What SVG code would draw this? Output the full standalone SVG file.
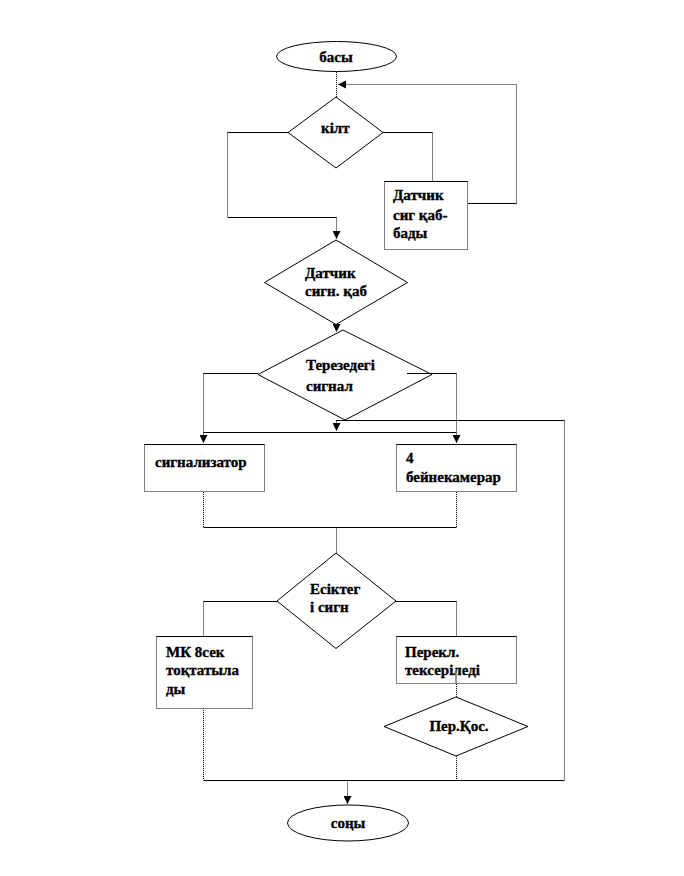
<svg xmlns="http://www.w3.org/2000/svg" width="684" height="876" viewBox="0 0 684 876">
<defs>
<marker id="ad" markerUnits="userSpaceOnUse" markerWidth="9" markerHeight="8" viewBox="0 0 9 8" refX="8" refY="4" orient="auto">
<path d="M0,0 L8,4 L0,8 Z" fill="#000"/>
</marker>
</defs>
<style>
.s{fill:none;stroke:#000;stroke-width:1}
.d{fill:none;stroke:#000;stroke-width:1;stroke-dasharray:1 1}
.g{fill:none;stroke:#777;stroke-width:1.5}
.n{fill:#fff;stroke:#000;stroke-width:1}
.bx{fill:#fff;stroke:#000;stroke-width:1;stroke-dasharray:1 1}
text{font-family:"Liberation Serif","Times New Roman",serif;font-weight:bold;font-size:15px;fill:#000;stroke:#000;stroke-width:0.35}
.m{text-anchor:middle}
</style>
<rect width="684" height="876" fill="#fff"/>

<g id="connectors">
<path class="d" d="M336.5,72 V97"/>
<path class="s" d="M468,203.5 H516.5"/>
<path class="d" d="M516.5,203.5 V84.5 H338" marker-end="url(#ad)"/>
<path class="s" d="M288,132.5 H227.5"/>
<path class="d" d="M227.5,132.5 V217"/>
<path class="s" d="M227.5,217.5 H336.5"/>
<path class="d" d="M336.5,217.5 V239" marker-end="url(#ad)"/>
<path class="d" d="M336.5,324 V332" marker-end="url(#ad)"/>
<path class="s" d="M383,132.5 H432.5"/>
<path class="d" d="M432.5,132.5 V181"/>
<path class="s" d="M258,373.5 H203.5"/>
<path class="d" d="M203.5,373.5 V443" marker-end="url(#ad)"/>
<path class="s" d="M407,373.5 H456.5"/>
<path class="d" d="M456.5,373.5 V443" marker-end="url(#ad)"/>
<path class="s" d="M336,420.5 H564.5"/>
<path class="d" d="M336.5,420.5 V431" marker-end="url(#ad)"/>
<path class="d" d="M564.5,420.5 V780"/>
<path class="s" d="M203.5,432.5 H456.5"/>
<path class="d" d="M203.5,492 V527"/>
<path class="d" d="M456.5,492 V527"/>
<path class="s" d="M203.5,527.5 H456.5"/>
<path class="d" d="M336.5,527.5 V553"/>
<path class="s" d="M277,601.5 H203.5"/>
<path class="d" d="M203.5,601.5 V637"/>
<path class="s" d="M396,601.5 H456.5"/>
<path class="d" d="M456.5,601.5 V637"/>
<path class="d" d="M203.5,708 V780"/>
<path class="d" d="M456.5,756 V780"/>
<path class="s" d="M203.5,780.5 H564.5"/>
<path class="d" d="M347.5,780.5 V804" marker-end="url(#ad)"/>
</g>

<g id="start">
<ellipse class="n" cx="336.5" cy="56.5" rx="60" ry="15"/>
<text class="m" x="336" y="62">басы</text>
</g>

<g id="key">
<path class="n" d="M336,97 L383,132.5 L336,168 L288,132.5 Z"/>
<text x="321" y="133">кілт</text>
</g>

<g id="sensor-box">
<rect class="bx" x="384.5" y="181.5" width="83" height="68"/>
<path class="s" d="M384.5,181.5 H467.5"/>
<text x="393" y="200">Датчик</text>
<text x="393" y="220">сиг қаб-</text>
<text x="393" y="238">бады</text>
</g>

<g id="sensor-decision">
<path class="n" d="M336,240 L407.5,282.5 L336,324.5 L264.5,282.5 Z"/>
<text x="305" y="278">Датчик</text>
<text x="305" y="296">сигн. қаб</text>
</g>

<g id="window-decision">
<path class="n" d="M343,330 L432,374.5 L345,420 L258,374.5 Z"/>
<text x="306" y="370">Терезедегі</text>
<text x="306" y="391">сигнал</text>
</g>
<path class="s" d="M407,373.5 H432"/>

<g id="alarm">
<rect class="bx" x="144.5" y="444.5" width="120" height="47"/>
<path class="s" d="M144.5,444.5 H264.5"/>
<text x="155" y="467">сигнализатор</text>
</g>

<g id="cameras">
<rect class="bx" x="396.5" y="444.5" width="120" height="47"/>
<path class="s" d="M396.5,444.5 H516.5"/>
<text x="406" y="463">4</text>
<text x="406" y="482">бейнекамерар</text>
</g>

<g id="door-decision">
<path class="n" d="M336,553 L396,601 L336,648.5 L277,601 Z"/>
<text x="310" y="594">Есіктег</text>
<text x="310" y="612">і сигн</text>
</g>

<g id="mk-stop">
<rect class="bx" x="156.5" y="636.5" width="96" height="72"/>
<path class="s" d="M156.5,636.5 H252.5"/>
<text x="166" y="657">МК 8сек</text>
<text x="166" y="675">тоқтатыла</text>
<text x="166" y="694">ды</text>
</g>

<g id="switch-check">
<rect class="bx" x="396.5" y="636.5" width="120" height="47"/>
<path class="s" d="M396.5,636.5 H516.5"/>
<text x="405" y="657">Перекл.</text>
<text x="405" y="675">тексеріледі</text>
</g>
<path class="g" d="M456,672 V684"/>
<path class="d" d="M456.5,684 V697"/>

<g id="switch-on">
<path class="n" d="M456,697 L528,726.5 L456,756 L384,726.5 Z"/>
<text class="m" x="459" y="731">Пер.Қос.</text>
</g>

<g id="end">
<ellipse class="n" cx="348" cy="823" rx="60.5" ry="18"/>
<text class="m" x="348" y="828">соңы</text>
</g>
</svg>
